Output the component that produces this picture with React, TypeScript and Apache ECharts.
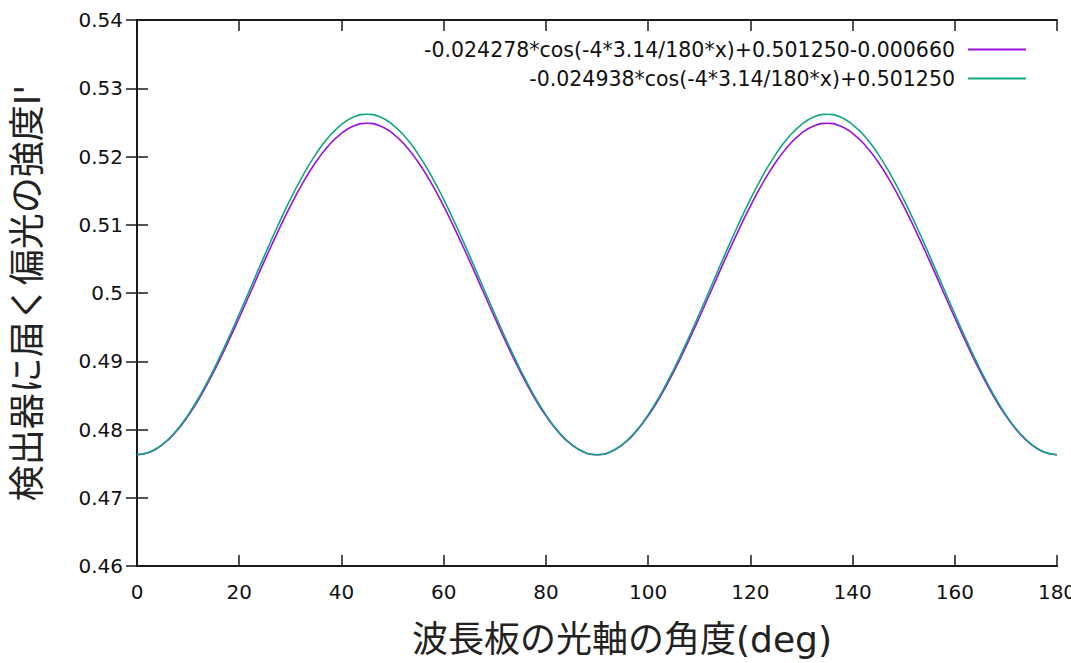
import React, { useEffect, useRef } from "react";
import * as echarts from "echarts";

// Angle of the wave plate optical axis (deg)
const angles = [
  0, 2.5, 5, 7.5, 10, 12.5, 15, 17.5, 20, 22.5, 25, 27.5, 30, 32.5, 35, 37.5, 40, 42.5, 45,
  47.5, 50, 52.5, 55, 57.5, 60, 62.5, 65, 67.5, 70, 72.5, 75, 77.5, 80, 82.5, 85, 87.5, 90,
  92.5, 95, 97.5, 100, 102.5, 105, 107.5, 110, 112.5, 115, 117.5, 120, 122.5, 125, 127.5, 130, 132.5, 135,
  137.5, 140, 142.5, 145, 147.5, 150, 152.5, 155, 157.5, 160, 162.5, 165, 167.5, 170, 172.5, 175, 177.5, 180,
];

// -0.024278*cos(-4*3.14/180*x)+0.501250-0.000660
const purpleValues = [
  0.47631, 0.47668, 0.47778, 0.47957, 0.48199, 0.48498, 0.48845, 0.49229, 0.49637, 0.50059,
  0.50481, 0.50889, 0.51273, 0.5162, 0.51919, 0.52162, 0.5234, 0.5245, 0.52487,
  0.5245, 0.5234, 0.52162, 0.51919, 0.5162, 0.51273, 0.50889, 0.50481, 0.50059,
  0.49637, 0.49229, 0.48845, 0.48498, 0.48199, 0.47957, 0.47778, 0.47668, 0.47631,
  0.47668, 0.47778, 0.47957, 0.48199, 0.48498, 0.48845, 0.49229, 0.49637, 0.50059,
  0.50481, 0.50889, 0.51273, 0.5162, 0.51919, 0.52162, 0.5234, 0.5245, 0.52487,
  0.5245, 0.5234, 0.52162, 0.51919, 0.5162, 0.51273, 0.50889, 0.50481, 0.50059,
  0.49637, 0.49229, 0.48845, 0.48498, 0.48199, 0.47957, 0.47778, 0.47668, 0.47631,
];

// -0.024938*cos(-4*3.14/180*x)+0.501250
const greenValues = [
  0.47631, 0.47669, 0.47782, 0.47965, 0.48215, 0.48522, 0.48878, 0.49272, 0.49692, 0.50125,
  0.50558, 0.50978, 0.51372, 0.51728, 0.52035, 0.52285, 0.52468, 0.52581, 0.52619,
  0.52581, 0.52468, 0.52285, 0.52035, 0.51728, 0.51372, 0.50978, 0.50558, 0.50125,
  0.49692, 0.49272, 0.48878, 0.48522, 0.48215, 0.47965, 0.47782, 0.47669, 0.47631,
  0.47669, 0.47782, 0.47965, 0.48215, 0.48522, 0.48878, 0.49272, 0.49692, 0.50125,
  0.50558, 0.50978, 0.51372, 0.51728, 0.52035, 0.52285, 0.52468, 0.52581, 0.52619,
  0.52581, 0.52468, 0.52285, 0.52035, 0.51728, 0.51372, 0.50978, 0.50558, 0.50125,
  0.49692, 0.49272, 0.48878, 0.48522, 0.48215, 0.47965, 0.47782, 0.47669, 0.47631,
];

const seriesNames = [
  "-0.024278*cos(-4*3.14/180*x)+0.501250-0.000660",
  "-0.024938*cos(-4*3.14/180*x)+0.501250",
];
const seriesColors = ["#9a10e0", "#12a581"];

const xTitle = "波長板の光軸の角度(deg)";
const yTitle = "検出器に届く偏光の強度I'";

const xRange = { min: 0, max: 180, interval: 20 };
const yRange = { min: 0.46, max: 0.54, interval: 0.01 };

const labelFont = "'DejaVu Sans', Tahoma, sans-serif";
const titleFont = "'DejaVu Sans', 'Noto Sans CJK JP', sans-serif";
const axisColor = "#1a1a1a";

export default function App() {
  const ref = useRef<HTMLDivElement>(null);

  useEffect(() => {
    if (!ref.current) return;
    const chart = echarts.init(ref.current, null, { renderer: "svg" });

    const baseTick = {
      show: true,
      inside: true,
      length: 11,
      lineStyle: { color: axisColor, width: 1.5 },
    };
    const baseLine = { show: true, lineStyle: { color: axisColor, width: 2 } };

    const pair = (vals: number[]) => angles.map((a, i) => [a, vals[i]]);

    const legendBase = {
      right: 40,
      align: "right",
      icon: "rect",
      itemWidth: 58,
      itemHeight: 2,
      selectedMode: false,
      textStyle: { fontFamily: labelFont, fontSize: 20.5, color: "#111", padding: [0, 8, 0, 0] },
    };

    chart.setOption({
      animation: false,
      backgroundColor: "#ffffff",
      grid: {
        left: 137,
        right: 14,
        top: 20,
        bottom: 97,
        containLabel: false,
        outerBoundsMode: "none",
      },
      legend: [
        { ...legendBase, data: [seriesNames[0]], top: 34 },
        { ...legendBase, data: [seriesNames[1]], top: 63 },
      ],
      xAxis: [
        {
          type: "value",
          position: "bottom",
          ...xRange,
          axisLine: baseLine,
          axisTick: baseTick,
          splitLine: { show: false },
          axisLabel: { fontFamily: labelFont, fontSize: 20, color: "#111", margin: 16 },
          name: xTitle,
          nameLocation: "middle",
          nameGap: 55,
          nameTextStyle: {
            fontFamily: titleFont,
            fontSize: 36,
            color: "#222",
            padding: [0, 0, 0, 50],
          },
        },
        {
          type: "value",
          position: "top",
          ...xRange,
          axisLine: baseLine,
          axisTick: baseTick,
          splitLine: { show: false },
          axisLabel: { show: false },
        },
      ],
      yAxis: [
        {
          type: "value",
          position: "left",
          ...yRange,
          axisLine: baseLine,
          axisTick: baseTick,
          splitLine: { show: false },
          axisLabel: { fontFamily: labelFont, fontSize: 20, color: "#111", margin: 14 },
          name: yTitle,
          nameLocation: "middle",
          nameGap: 92,
          nameRotate: 90,
          nameTextStyle: { fontFamily: titleFont, fontSize: 36, color: "#222" },
        },
        {
          type: "value",
          position: "right",
          ...yRange,
          axisLine: baseLine,
          axisTick: baseTick,
          splitLine: { show: false },
          axisLabel: { show: false },
        },
      ],
      series: [
        {
          name: seriesNames[0],
          type: "line",
          data: pair(purpleValues),
          smooth: true,
          showSymbol: false,
          symbol: "none",
          color: seriesColors[0],
          lineStyle: { color: seriesColors[0], width: 1.6 },
        },
        {
          name: seriesNames[1],
          type: "line",
          data: pair(greenValues),
          smooth: true,
          showSymbol: false,
          symbol: "none",
          color: seriesColors[1],
          lineStyle: { color: seriesColors[1], width: 1.6 },
        },
      ],
    });

    return () => chart.dispose();
  }, []);

  return (
    <div
      ref={ref}
      style={{ position: "fixed", left: 0, top: 0, width: 1071, height: 663, overflow: "hidden", background: "#fff" }}
    />
  );
}
